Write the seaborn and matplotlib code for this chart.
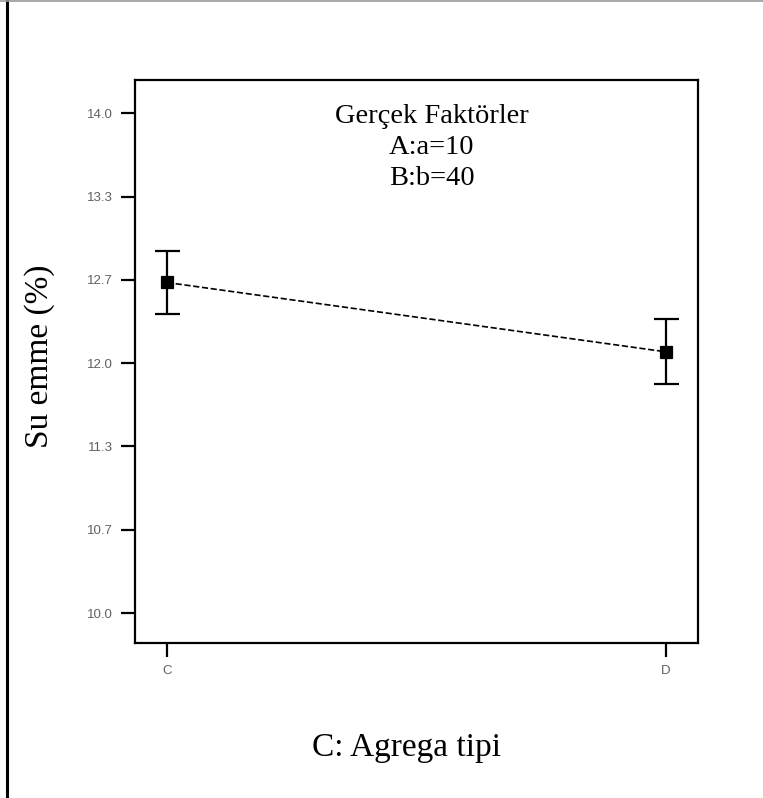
import matplotlib
matplotlib.use("Agg")
import matplotlib.pyplot as plt
from matplotlib.lines import Line2D
import seaborn as sns

# values
categories = ["C", "D"]
means = [12.645, 12.09]
errors = [0.25, 0.26]
y_ticks = [10.0, 10.667, 11.333, 12.0, 12.667, 13.333, 14.0]
y_tick_labels = ["10.0", "10.7", "11.3", "12.0", "12.7", "13.3", "14.0"]
factor_lines = ["Gerçek Faktörler", "A:a=10", "B:b=40"]

sns.set_theme(style="white")
plt.rcParams["font.family"] = ["Liberation Sans", "DejaVu Sans"]

fig = plt.figure(figsize=(7.63, 7.98), dpi=100)
ax = fig.add_axes([0.1769, 0.1942, 0.7379, 0.7055])

sns.pointplot(x=categories, y=means, ax=ax, color="black", markers="s",
              linestyles="--", errorbar=None, markersize=8, linewidth=1.2)
ax.errorbar(categories, means, yerr=errors, fmt="none", ecolor="black",
            elinewidth=1.6, capsize=9, capthick=1.6)

ax.set_xlim(-0.064, 1.064)
ax.set_ylim(9.76, 14.265)
ax.set_yticks(y_ticks)
ax.set_yticklabels(y_tick_labels)

for s in ax.spines.values():
    s.set_color("black")
    s.set_linewidth(1.6)
ax.tick_params(axis="both", direction="out", length=10, width=1.6, color="black",
               labelsize=9.5, labelcolor="#606060", pad=6, left=True, bottom=True)

serif = ["Liberation Serif", "DejaVu Serif"]
ax.set_ylabel("Su emme (%)", family=serif, fontsize=24, color="black")
ax.yaxis.set_label_coords(-0.142, 0.51)
ax.set_xlabel("C: Agrega tipi", family=serif, fontsize=24, color="black")
ax.xaxis.set_label_coords(0.483, -0.159)

ax.text(0.5275, 0.958, "\n".join(factor_lines), transform=ax.transAxes,
        ha="center", va="top", multialignment="center", family=serif,
        fontsize=20.5, color="black", linespacing=1.33)

# frame lines of the original picture
fig.add_artist(Line2D([0.0092, 0.0092], [0, 1], transform=fig.transFigure,
                      color="black", linewidth=2.2))
fig.add_artist(Line2D([0, 1], [0.999, 0.999], transform=fig.transFigure,
                      color="#999999", linewidth=1.2))

fig.savefig("out.png", dpi=100)
